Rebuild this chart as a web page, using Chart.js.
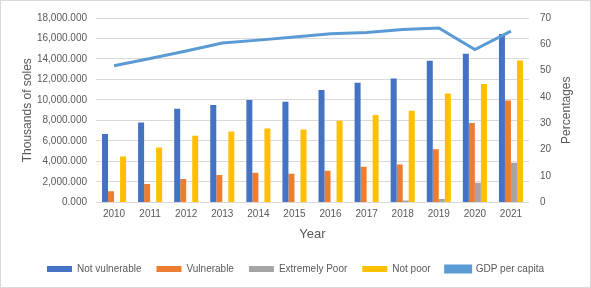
<!DOCTYPE html>
<html>
<head>
<meta charset="utf-8">
<script src="https://cdn.jsdelivr.net/npm/chart.js@4/dist/chart.umd.min.js"></script>
<style>
  html, body { margin: 0; padding: 0; background: #fff; }
  #wrap { width: 589px; height: 286px; border: 1px solid #d9d9d9; }
</style>
</head>
<body>
<div id="wrap"><canvas id="plot" width="589" height="286"></canvas></div>
<script>
var years = ["2010", "2011", "2012", "2013", "2014", "2015", "2016", "2017", "2018", "2019", "2020", "2021"];
var notVulnerable = [6670, 7790, 9140, 9500, 10000, 9820, 10980, 11690, 12100, 13820, 14520, 16450];
var vulnerable = [1090, 1800, 2280, 2670, 2900, 2800, 3090, 3480, 3700, 5180, 7760, 9950];
var extremelyPoor = [0, 0, 0, 0, 0, 0, 0, 0, 190, 320, 1930, 3860];
var notPoor = [4470, 5370, 6500, 6920, 7210, 7110, 7980, 8530, 8950, 10630, 11560, 13850];
var gdpPerCapita = [51.9, 54.6, 57.5, 60.5, 61.6, 62.8, 64.0, 64.5, 65.6, 66.2, 58.0, 65.0];

var textColor = "#595959";
var fontFamily = "'Liberation Sans', Arial, sans-serif";

function fmt(v) {
    return v.toLocaleString("en-US", { minimumFractionDigits: 3, maximumFractionDigits: 3 });
}

// right axis title reads bottom-to-top like the left one
var rightTitle = {
    id: "rightTitle",
    afterDraw: function (chart) {
        var ctx = chart.ctx, area = chart.chartArea;
        ctx.save();
        ctx.translate(566, (area.top + area.bottom) / 2);
        ctx.rotate(-Math.PI / 2);
        ctx.fillStyle = textColor;
        ctx.font = "12px " + fontFamily;
        ctx.textAlign = "center";
        ctx.textBaseline = "middle";
        ctx.fillText("Percentages", 0, 0);
        ctx.restore();
    }
};

new Chart(document.getElementById("plot"), {
    type: "bar",
    data: {
        labels: years,
        datasets: [
            { label: "Not vulnerable", data: notVulnerable, backgroundColor: "#4472C4", yAxisID: "y", order: 1 },
            { label: "Vulnerable", data: vulnerable, backgroundColor: "#ED7D31", yAxisID: "y", order: 1 },
            { label: "Extremely Poor", data: extremelyPoor, backgroundColor: "#A5A5A5", yAxisID: "y", order: 1 },
            { label: "Not poor", data: notPoor, backgroundColor: "#FFC000", yAxisID: "y", order: 1 },
            {
                type: "line", label: "GDP per capita", data: gdpPerCapita, yAxisID: "y1", order: -1,
                borderColor: "#5B9BD5", backgroundColor: "#5B9BD5", borderWidth: 3,
                pointRadius: 0, tension: 0, fill: false
            }
        ]
    },
    plugins: [rightTitle],
    options: {
        responsive: false,
        animation: false,
        layout: { padding: { left: 0, right: 0, top: 6, bottom: 3 } },
        datasets: { bar: { categoryPercentage: 0.667, barPercentage: 1.0 } },
        plugins: {
            tooltip: { enabled: false },
            legend: {
                position: "bottom",
                labels: {
                    boxWidth: 25, boxHeight: 6, padding: 15, color: textColor,
                    font: { family: fontFamily, size: 10 },
                    sort: function (a, b) { return a.datasetIndex - b.datasetIndex; }
                }
            }
        },
        scales: {
            x: {
                grid: { display: false, drawTicks: false },
                border: { display: false },
                ticks: { padding: 6, color: textColor, font: { family: fontFamily, size: 10 } },
                title: { display: true, text: "Year", color: textColor, padding: { top: 0, bottom: 7 },
                         font: { family: fontFamily, size: 13 } }
            },
            y: {
                position: "left",
                min: 0, max: 18000,
                afterFit: function (s) { s.width = 95; },
                ticks: { stepSize: 2000, padding: 9, color: textColor, font: { family: fontFamily, size: 10 }, callback: fmt },
                grid: { color: "#D9D9D9", drawTicks: false },
                border: { display: false },
                title: { display: true, text: "Thousands of soles", color: textColor, padding: { top: 19, bottom: 4 },
                         font: { family: fontFamily, size: 12 } }
            },
            y1: {
                position: "right",
                min: 0, max: 70,
                afterFit: function (s) { s.width = 61; },
                ticks: { stepSize: 10, color: textColor, font: { family: fontFamily, size: 10 }, padding: 11 },
                grid: { drawOnChartArea: false, drawTicks: false },
                border: { display: false }
            }
        }
    }
});
</script>
</body>
</html>
